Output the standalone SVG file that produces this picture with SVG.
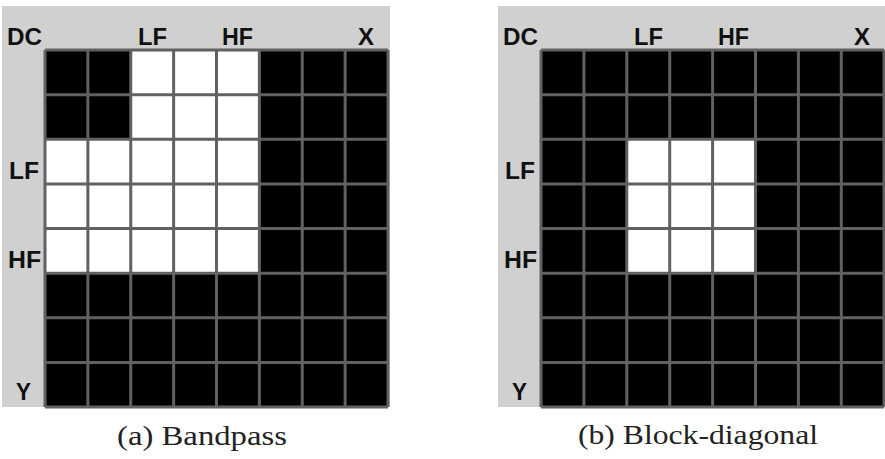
<svg xmlns="http://www.w3.org/2000/svg" width="885" height="459" viewBox="0 0 885 459">
<style>
.bg{fill:#d0d0d0}
.blk{fill:#000}
.wht{fill:#fff}
.gl{stroke:#616161;stroke-width:3;fill:none}
.lab{font-family:"Liberation Sans",Arial,sans-serif;font-weight:bold;font-size:23.5px;fill:#111}
.cap{font-family:"Liberation Serif","Times New Roman",serif;font-size:26.5px;fill:#222}
</style>
<rect x="0" y="0" width="885" height="459" fill="#fff"/>
<g id="panel-a">
<rect class="bg" x="2" y="6" width="388" height="401"/>
<rect class="blk" x="45" y="50" width="343" height="357"/>
<rect class="wht" x="130.75" y="50" width="128.625" height="89.25"/>
<rect class="wht" x="45" y="139.25" width="214.375" height="133.875"/>
<path class="gl" d="M45 50V407M87.875 50V407M130.75 50V407M173.625 50V407M216.5 50V407M259.375 50V407M302.25 50V407M345.125 50V407M388 50V407M45 50H388M45 94.625H388M45 139.25H388M45 183.875H388M45 228.5H388M45 273.125H388M45 317.75H388M45 362.375H388M45 407H388"/>
<text class="lab" x="7" y="45" textLength="35" lengthAdjust="spacingAndGlyphs">DC</text>
<text class="lab" x="138" y="45" textLength="29" lengthAdjust="spacingAndGlyphs">LF</text>
<text class="lab" x="222" y="45" textLength="31" lengthAdjust="spacingAndGlyphs">HF</text>
<text class="lab" x="358" y="45" textLength="16" lengthAdjust="spacingAndGlyphs">X</text>
<text class="lab" x="9" y="179" textLength="30" lengthAdjust="spacingAndGlyphs">LF</text>
<text class="lab" x="8" y="268" textLength="33" lengthAdjust="spacingAndGlyphs">HF</text>
<text class="lab" x="16" y="400" textLength="15" lengthAdjust="spacingAndGlyphs">Y</text>
<text class="cap" x="117" y="445" textLength="170" lengthAdjust="spacingAndGlyphs">(a) Bandpass</text>
</g>
<g id="panel-b">
<rect class="bg" x="498" y="6" width="387" height="401"/>
<rect class="blk" x="541" y="50" width="343" height="357"/>
<rect class="wht" x="626.8" y="139.25" width="128.7" height="133.875"/>
<path class="gl" d="M541 50V407M583.9 50V407M626.8 50V407M669.7 50V407M712.6 50V407M755.5 50V407M798.4 50V407M841.3 50V407M884 50V407M541 50H884M541 94.625H884M541 139.25H884M541 183.875H884M541 228.5H884M541 273.125H884M541 317.75H884M541 362.375H884M541 407H884"/>
<text class="lab" x="503" y="45" textLength="35" lengthAdjust="spacingAndGlyphs">DC</text>
<text class="lab" x="634" y="45" textLength="29" lengthAdjust="spacingAndGlyphs">LF</text>
<text class="lab" x="718" y="45" textLength="31" lengthAdjust="spacingAndGlyphs">HF</text>
<text class="lab" x="854" y="45" textLength="16" lengthAdjust="spacingAndGlyphs">X</text>
<text class="lab" x="505" y="179" textLength="30" lengthAdjust="spacingAndGlyphs">LF</text>
<text class="lab" x="504" y="268" textLength="33" lengthAdjust="spacingAndGlyphs">HF</text>
<text class="lab" x="512" y="400" textLength="15" lengthAdjust="spacingAndGlyphs">Y</text>
<text class="cap" x="578" y="444" textLength="240" lengthAdjust="spacingAndGlyphs">(b) Block-diagonal</text>
</g>
</svg>
